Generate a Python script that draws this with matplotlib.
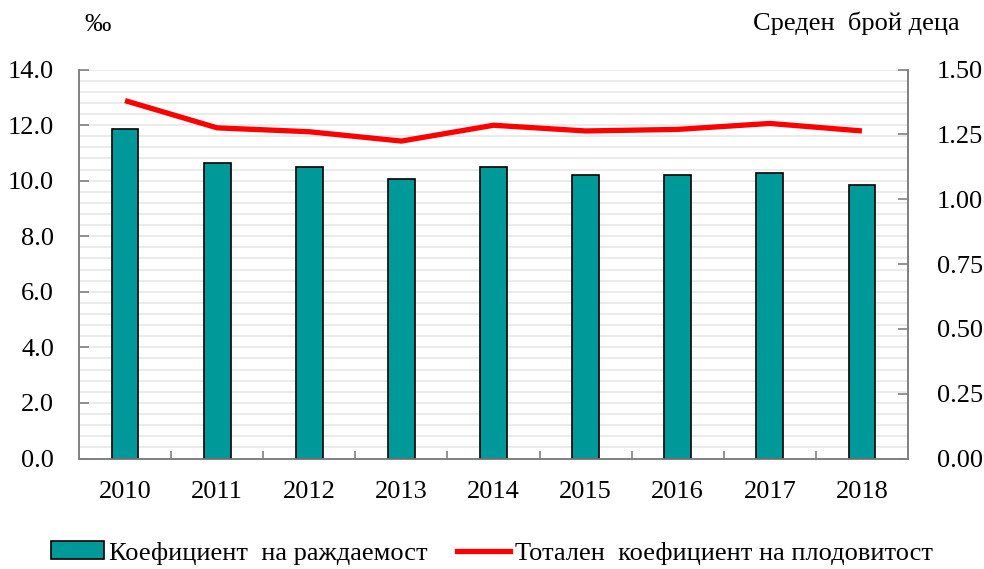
import matplotlib
matplotlib.use("Agg")
import matplotlib.pyplot as plt
import numpy as np
from matplotlib.patches import Patch
from matplotlib.lines import Line2D

# data
years = ['2010', '2011', '2012', '2013', '2014', '2015', '2016', '2017', '2018']
birth_rate = [11.85, 10.62, 10.49, 10.07, 10.49, 10.2, 10.2, 10.26, 9.84]
fertility = [1.38, 1.275, 1.26, 1.224, 1.285, 1.263, 1.269, 1.292, 1.263]
left_ticks = [0, 2, 4, 6, 8, 10, 12, 14]
right_ticks = [0, 0.25, 0.5, 0.75, 1.0, 1.25, 1.5]
bar_label = 'Коефициент  на раждаемост'
line_label = 'Тотален  коефициент на плодовитост'

plt.rcParams['font.family'] = ['Liberation Serif', 'DejaVu Serif']
fs = 19

fig = plt.figure(figsize=(9.84, 5.69), dpi=100)
ax = fig.add_axes([79/984, 1 - 458.5/569, (908-79)/984, (458.5-69.5)/569])
ax2 = ax.twinx()

x = np.arange(len(years))
ax.bar(x, birth_rate, width=0.29, color='#009999', edgecolor='black', linewidth=1.2, zorder=3)
ax2.plot(x, fertility, color='#ff0000', linewidth=3.8, solid_capstyle='butt', zorder=4)

ax.set_xlim(-0.5, len(years) - 0.5)
ax.set_ylim(0, 14)
ax2.set_ylim(0, 1.5)

# light gridlines every 0.4
for g in np.arange(0.4, 14.01, 0.4):
    ax.axhline(g, color='#e8e8e8', linewidth=1.2, zorder=1)

ax.set_yticks(left_ticks)
ax.set_yticklabels(['%.1f' % v for v in left_ticks])
ax2.set_yticks(right_ticks)
ax2.set_yticklabels(['%.2f' % v for v in right_ticks])

ax.set_xticks(x)
ax.set_xticklabels(years)
ax.set_xticks(np.arange(0.5, len(years) - 1, 1.0), minor=True)
ax.tick_params(axis='x', which='major', length=0, pad=16, labelsize=fs)
ax.tick_params(axis='x', which='minor', direction='in', length=6, color='#808080', width=1.2)
ax.tick_params(axis='y', direction='in', length=7, color='#808080', width=1.2, pad=18, labelsize=fs)
ax2.tick_params(axis='y', direction='in', length=7, color='#808080', width=1.2, pad=21, labelsize=fs)

for a in (ax, ax2):
    a.spines['top'].set_visible(False)
    for s in ('left', 'right', 'bottom'):
        a.spines[s].set_color('#808080')
        a.spines[s].set_linewidth(1.2)

ax.set_zorder(ax2.get_zorder() - 1)
ax2.patch.set_visible(False)
ax.patch.set_visible(True)
ax.set_facecolor('white')

fig.text(84/984, 1 - 25/569, '‰', fontsize=fs, va='center', ha='left')
fig.text(960/984, 1 - 23/569, 'Среден  брой деца', fontsize=fs, va='center', ha='right')

handles = [Patch(facecolor='#009999', edgecolor='black', linewidth=1.2),
           Line2D([0], [0], color='#ff0000', linewidth=3.8)]
fig.legend(handles, [bar_label, line_label], loc='center', bbox_to_anchor=(0.5, 1 - 553/569),
           ncol=2, frameon=False, fontsize=fs, handlelength=2.0, handletextpad=0.2,
           columnspacing=1.1, handleheight=0.65)

fig.savefig('out.png', dpi=100)
